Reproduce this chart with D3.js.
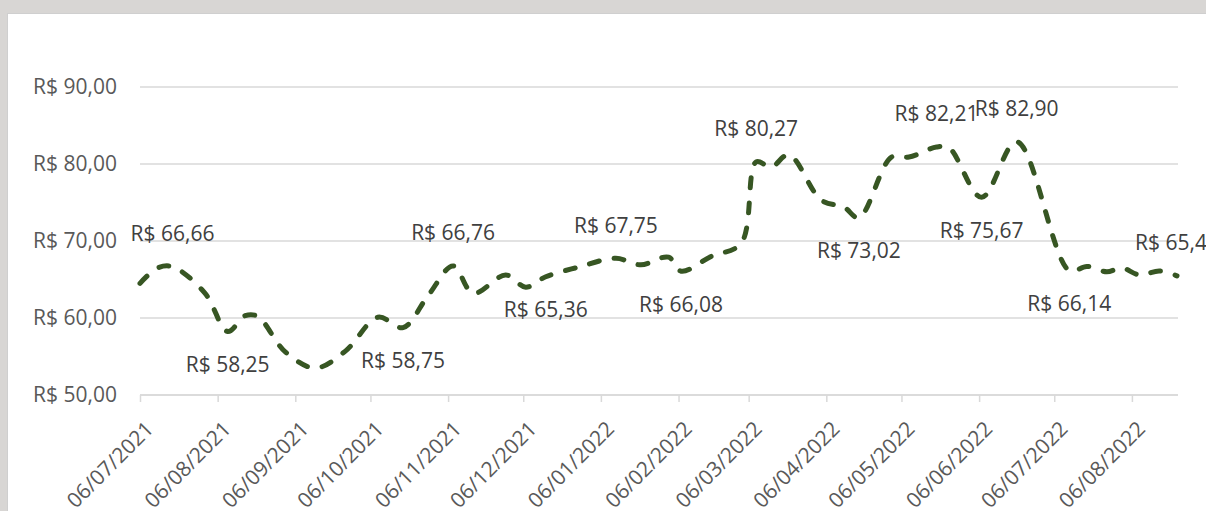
<!DOCTYPE html>
<html>
<head>
<meta charset="utf-8">
<script src="https://cdn.jsdelivr.net/npm/d3@7"></script>
<style>
  html, body { margin: 0; padding: 0; background: #d8d6d4; }
  .chart { width: 1206px; height: 511px; overflow: hidden; }
  text { font-family: "Open Sans", sans-serif; }
</style>
</head>
<body>
<div class="chart"></div>
<script>
// weekly-ish closing prices
const dates = [
  "2021-07-06", "2021-07-13", "2021-07-19", "2021-08-01", "2021-08-10",
  "2021-08-17", "2021-08-22", "2021-09-02", "2021-09-14", "2021-09-26",
  "2021-10-09", "2021-10-19", "2021-10-29", "2021-11-08", "2021-11-16",
  "2021-11-29", "2021-12-07", "2021-12-15", "2021-12-28", "2022-01-12",
  "2022-01-22", "2022-02-02", "2022-02-07", "2022-02-19", "2022-03-03",
  "2022-03-09", "2022-03-15", "2022-03-22", "2022-04-04", "2022-04-13",
  "2022-04-19", "2022-05-02", "2022-05-09", "2022-05-20", "2022-05-25",
  "2022-06-07", "2022-06-21", "2022-07-12", "2022-07-19", "2022-07-27",
  "2022-08-02", "2022-08-09", "2022-08-17", "2022-08-24",
];
const prices = [
  64.5, 66.5, 66.66, 63.2, 58.25,
  60.3, 60.2, 55.6, 53.5, 55.7,
  60.1, 58.75, 62.9, 66.76, 63.2,
  65.6, 64.0, 65.36, 66.6, 67.75,
  66.9, 67.9, 66.08, 68.0, 69.7,
  80.27, 79.6, 81.2, 75.3, 74.4,
  73.02, 80.9, 80.9, 82.21, 82.1,
  75.67, 82.9, 66.14, 66.7, 66.0,
  66.5, 65.6, 66.1, 65.48,
];

// which points carry a data label, and on which side
const labelDates = [
  "2021-07-19", "2021-08-10", "2021-10-19", "2021-11-08", "2021-12-15",
  "2022-01-12", "2022-02-07", "2022-03-09", "2022-04-19", "2022-05-20",
  "2022-06-07", "2022-06-21", "2022-07-12", "2022-08-24",
];
const labelSides = [
  "above", "below", "below", "above", "below",
  "above", "below", "above", "below", "above",
  "below", "above", "below", "above",
];

const tickDates = [
  "2021-07-06", "2021-08-06", "2021-09-06", "2021-10-06", "2021-11-06",
  "2021-12-06", "2022-01-06", "2022-02-06", "2022-03-06", "2022-04-06",
  "2022-05-06", "2022-06-06", "2022-07-06", "2022-08-06",
];
const yTicks = [50, 60, 70, 80, 90];

const parse = d3.timeParse("%Y-%m-%d");
const data = dates.map((d, i) => ({ date: parse(d), value: prices[i] }));
const labels = labelDates.map((d, i) => {
  const p = data.find((r) => +r.date === +parse(d));
  return { date: p.date, value: p.value, side: labelSides[i] };
});

const W = 1206, H = 511;
const svg = d3.select(".chart").append("svg")
  .attr("width", W).attr("height", H);

// white card over the grey background
svg.append("rect")
  .attr("x", 7.5).attr("y", 13.5)
  .attr("width", W).attr("height", H)
  .attr("fill", "#fff").attr("stroke", "#cfcfcf");

const xScale = d3.scaleTime()
  .domain([parse("2021-07-06"), parse("2022-08-24")])
  .range([140, 1177]);

const yScale = d3.scaleLinear()
  .domain([50, 90])
  .range([395, 87]);

const money = (v) => "R$ " + d3.format(".2f")(v).replace(".", ",");
const dayFmt = d3.timeFormat("%d/%m/%Y");

// gridlines
svg.append("g")
  .selectAll("line")
  .data(yTicks)
  .enter()
  .append("line")
  .attr("x1", 140).attr("x2", 1178)
  .attr("y1", (d) => yScale(d)).attr("y2", (d) => yScale(d))
  .attr("stroke", "#d9d9d9").attr("stroke-width", 1.5);

// y axis labels
svg.append("g")
  .selectAll("text")
  .data(yTicks)
  .enter()
  .append("text")
  .attr("x", 117)
  .attr("y", (d) => yScale(d))
  .attr("dy", "0.35em")
  .attr("text-anchor", "end")
  .attr("fill", "#595959")
  .style("font-size", "21px")
  .text(money);

// x axis
const xAxis = svg.append("g")
  .attr("transform", "translate(0," + yScale(50) + ")")
  .call(d3.axisBottom(xScale)
    .tickValues(tickDates.map(parse))
    .tickSize(7)
    .tickFormat(dayFmt));

xAxis.select(".domain").attr("stroke", "#d9d9d9").attr("stroke-width", 1.5)
  .attr("d", "M140,0H1178");
xAxis.selectAll(".tick line").attr("stroke", "#d9d9d9").attr("stroke-width", 1.5);
xAxis.selectAll(".tick text")
  .attr("fill", "#595959")
  .style("font-size", "21px")
  .style("font-family", "'Open Sans', sans-serif")
  .attr("text-anchor", "end")
  .attr("transform", "rotate(-45)")
  .attr("x", -15)
  .attr("y", 35)
  .attr("dy", 0);

const line = d3.line()
  .x((d) => xScale(d.date))
  .y((d) => yScale(d.value))
  .curve(d3.curveCatmullRom.alpha(0.5));

svg.append("path")
  .datum(data)
  .attr("d", line)
  .attr("fill", "none")
  .attr("stroke", "#375623")
  .attr("stroke-width", 5)
  .attr("stroke-linecap", "round")
  .attr("stroke-dasharray", "10,15");

// data labels
svg.append("g")
  .selectAll("text")
  .data(labels)
  .enter()
  .append("text")
  .attr("x", (d) => xScale(d.date))
  .attr("y", (d) => yScale(d.value) + (d.side === "above" ? -33 : 33))
  .attr("dy", "0.35em")
  .attr("text-anchor", "middle")
  .attr("fill", "#404040")
  .style("font-size", "21px")
  .text((d) => money(d.value));
</script>
</body>
</html>
